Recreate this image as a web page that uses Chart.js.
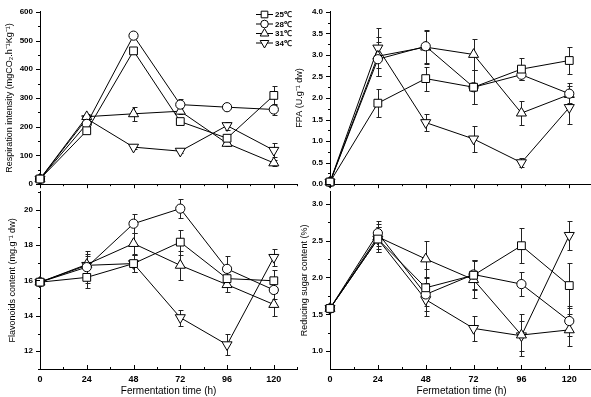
<!DOCTYPE html>
<html lang="en">
<head>
<meta charset="UTF-8">
<title>Fermentation time course</title>
<style>
  html, body { margin: 0; padding: 0; background: #fff; }
  body { width: 591px; height: 397px; overflow: hidden; position: relative; }
  canvas { position: absolute; }
</style>
</head>
<body>
<canvas id="resp" width="304" height="196" style="left:0;top:0"></canvas>
<canvas id="fpa" width="310" height="196" style="left:290px;top:0"></canvas>
<canvas id="flav" width="304" height="217" style="left:0;top:180px"></canvas>
<canvas id="sugar" width="310" height="217" style="left:290px;top:180px"></canvas>

<script src="https://cdn.jsdelivr.net/npm/chart.js@4.4.0/dist/chart.umd.min.js"></script>
<script>
const hours = [0, 24, 48, 72, 96, 120];
const seriesNames = ['25℃', '28℃', '31℃', '34℃'];

// respiration intensity, rows = 25, 28, 31, 34 ℃
const respiration = [
    [18, 186, 464, 218, 160, 309],
    [18, 210, 517, 277, 268, 260],
    [18, 235, 245, 254, 142, 74],
    [18, 228, 129, 115, 204, 118]
];
const respirationErr = [
    [6, 8, 10, 10, 10, 33],
    [6, 8, 8, 21, 8, 20],
    [6, 10, 24, 10, 10, 10],
    [6, 10, 8, 8, 14, 25]
];

const fpa = [
    [0.05, 1.88, 2.45, 2.25, 2.67, 2.87],
    [0.05, 2.9, 3.2, 2.25, 2.54, 2.1],
    [0.05, 2.97, 3.18, 3.01, 1.65, 2.08],
    [0.05, 3.16, 1.43, 1.05, 0.5, 1.78]
];
const fpaErr = [
    [0.02, 0.33, 0.28, 0.4, 0.25, 0.32],
    [0.02, 0.4, 0.38, 0.4, 0.12, 0.25],
    [0.02, 0.45, 0.38, 0.36, 0.27, 0.2],
    [0.02, 0.47, 0.2, 0.3, 0.1, 0.38]
];

const flavonoids = [
    [15.9, 16.17, 16.95, 18.16, 16.1, 15.98],
    [15.9, 16.75, 19.2, 20.05, 16.65, 15.46],
    [15.9, 16.9, 18.08, 16.85, 15.76, 14.64],
    [15.9, 16.85, 16.95, 13.9, 12.37, 17.3]
];
const flavonoidsErr = [
    [0.1, 0.6, 0.5, 0.7, 0.4, 0.6],
    [0.1, 0.9, 0.55, 0.55, 0.7, 0.5],
    [0.1, 0.6, 0.6, 0.8, 0.4, 0.65],
    [0.1, 0.5, 0.5, 0.45, 0.6, 0.5]
];

const sugar = [
    [1.58, 2.52, 1.86, 2.03, 2.43, 1.89],
    [1.58, 2.6, 1.77, 2.04, 1.91, 1.41],
    [1.58, 2.55, 2.25, 1.97, 1.22, 1.29],
    [1.58, 2.52, 1.70, 1.31, 1.21, 2.57]
];
const sugarErr = [
    [0.02, 0.17, 0.25, 0.2, 0.24, 0.3],
    [0.02, 0.17, 0.22, 0.2, 0.16, 0.2],
    [0.02, 0.17, 0.25, 0.25, 0.28, 0.22],
    [0.02, 0.17, 0.22, 0.17, 0.2, 0.2]
];

const respTicks = [0, 100, 200, 300, 400, 500, 600];
const fpaTicks = [0, 0.5, 1, 1.5, 2, 2.5, 3, 3.5, 4];
const flavTicks = [12, 14, 16, 18, 20];
const sugarTicks = [1, 1.5, 2, 2.5, 3];

Chart.defaults.font.family = '"Liberation Sans", Arial, sans-serif';
Chart.defaults.color = '#000';

const markers = [
    { style: 'rect', rot: 0, r: 5.5 },
    { style: 'circle', rot: 0, r: 4.6 },
    { style: 'triangle', rot: 0, r: 5.8 },
    { style: 'triangle', rot: 180, r: 5.8 }
];

// vertical error bars, drawn under the lines and markers
const errorBars = {
    id: 'errorBars',
    beforeDatasetsDraw(chart) {
        const { ctx, scales: { x, y } } = chart;
        ctx.save();
        ctx.strokeStyle = '#222';
        ctx.lineWidth = 1;
        chart.data.datasets.forEach(ds => {
            ds.data.forEach(p => {
                const px = Math.round(x.getPixelForValue(p.x)) + 0.5;
                const top = Math.round(y.getPixelForValue(p.y + p.err)) + 0.5;
                const bot = Math.round(y.getPixelForValue(p.y - p.err)) + 0.5;
                ctx.beginPath();
                ctx.moveTo(px, top); ctx.lineTo(px, bot);
                ctx.moveTo(px - 2, top); ctx.lineTo(px + 3, top);
                ctx.moveTo(px - 2, bot); ctx.lineTo(px + 3, bot);
                ctx.stroke();
            });
        });
        ctx.restore();
    }
};

// major + minor tick marks like Origin
function tickValues(scale, majors) {
    const step = majors[1] - majors[0];
    const out = [];
    for (let v = majors[0] - step / 2; v <= scale.max + 1e-9; v += step / 2) {
        if (v < scale.min - 1e-9) continue;
        const isMajor = majors.some(m => Math.abs(m - v) < 1e-9);
        out.push({ v, isMajor });
    }
    return out;
}

const axisTicks = {
    id: 'axisTicks',
    afterDraw(chart, args, opts) {
        const { ctx, chartArea: a, scales: { x, y } } = chart;
        ctx.save();
        ctx.strokeStyle = '#000';
        ctx.lineWidth = 1;
        ctx.beginPath();
        const dir = opts.xInward ? -1 : 1;
        tickValues(x, hours).forEach(t => {
            const px = Math.round(x.getPixelForValue(t.v)) + 0.5;
            const len = t.isMajor ? 4 : 2;
            ctx.moveTo(px, a.bottom);
            ctx.lineTo(px, a.bottom + dir * len);
        });
        tickValues(y, opts.yTicks).forEach(t => {
            const py = Math.round(y.getPixelForValue(t.v)) + 0.5;
            const len = t.isMajor ? 4 : 2;
            ctx.moveTo(a.left, py);
            ctx.lineTo(a.left - len, py);
        });
        ctx.stroke();
        ctx.restore();
    }
};

// legend: short line with the marker, then the label
const seriesKey = {
    id: 'seriesKey',
    afterDraw(chart, args, opts) {
        if (!opts.show) return;
        const ctx = chart.ctx;
        ctx.save();
        chart.data.datasets.forEach((ds, i) => {
            const cy = opts.top + i * opts.gap;
            ctx.strokeStyle = '#000';
            ctx.lineWidth = 1;
            ctx.beginPath();
            ctx.moveTo(opts.left, cy + 0.5);
            ctx.lineTo(opts.left + 17, cy + 0.5);
            ctx.stroke();
            ctx.fillStyle = '#fff';
            Chart.helpers.drawPoint(ctx, {
                pointStyle: ds.pointStyle, rotation: ds.pointRotation,
                radius: ds.pointRadius - 0.8, borderWidth: 1
            }, opts.left + 8.5, cy + 0.5);
            ctx.fillStyle = '#000';
            ctx.font = 'bold 8px "Liberation Sans", Arial, sans-serif';
            ctx.textBaseline = 'middle';
            ctx.fillText(ds.label, opts.left + 19, cy + 1);
        });
        ctx.restore();
    }
};

function makePanel(id, p) {
    const datasets = p.values.map((vals, i) => ({
        label: seriesNames[i],
        data: hours.map((h, j) => ({ x: h, y: vals[j], err: p.errors[i][j] })),
        borderColor: '#000',
        borderWidth: 1,
        backgroundColor: '#fff',
        pointStyle: markers[i].style,
        pointRotation: markers[i].rot,
        pointRadius: markers[i].r,
        pointBorderWidth: 1,
        pointBackgroundColor: '#fff',
        pointBorderColor: '#000',
        tension: 0,
        clip: false
    }));

    new Chart(document.getElementById(id), {
        type: 'line',
        data: { datasets },
        options: {
            responsive: false,
            animation: false,
            events: [],
            layout: { padding: { top: p.padTop, right: 3, left: 0, bottom: 0 } },
            plugins: {
                legend: { display: false },
                tooltip: { enabled: false },
                axisTicks: { xInward: p.showX, yTicks: p.yTicks },
                seriesKey: { show: !!p.legend, left: 256, top: 14, gap: 9.5 }
            },
            scales: {
                x: {
                    type: 'linear',
                    min: 0,
                    max: 132,
                    afterBuildTicks: s => { s.ticks = hours.map(v => ({ value: v })); },
                    afterFit: s => { s.height = p.xHeight; },
                    grid: { display: true, drawOnChartArea: false, drawTicks: false },
                    border: { display: true, color: '#000', width: 1 },
                    ticks: {
                        display: p.showX,
                        padding: 5,
                        maxRotation: 0,
                        autoSkip: false,
                        font: { size: 9, weight: 'bold' }
                    },
                    title: {
                        display: p.showX,
                        text: p.xTitle,
                        font: { size: 10 },
                        padding: { top: 1, bottom: 0 }
                    }
                },
                y: {
                    type: 'linear',
                    min: p.yMin,
                    max: p.yMax,
                    afterBuildTicks: s => { s.ticks = p.yTicks.map(v => ({ value: v })); },
                    afterFit: s => { s.width = 40; },
                    grid: { display: true, drawOnChartArea: false, drawTicks: false },
                    border: { display: true, color: '#000', width: 1 },
                    ticks: {
                        padding: 7,
                        font: { size: 8, weight: 'bold' },
                        callback: v => p.decimals ? v.toFixed(p.decimals) : String(v)
                    },
                    title: {
                        display: true,
                        text: p.yTitle,
                        font: { size: 9 },
                        padding: { top: p.titlePad, bottom: 0 }
                    }
                }
            }
        },
        plugins: [errorBars, axisTicks, seriesKey]
    });
}

makePanel('resp', {
    values: respiration, errors: respirationErr,
    yMin: 0, yMax: 600, yTicks: respTicks, decimals: 0,
    yTitle: 'Respiration intensity (mgCO₂.h⁻¹Kg⁻¹)',
    padTop: 7, xHeight: 8, showX: false, titlePad: 4, legend: true
});
makePanel('fpa', {
    values: fpa, errors: fpaErr,
    yMin: 0, yMax: 4, yTicks: fpaTicks, decimals: 1,
    yTitle: 'FPA (U.g⁻¹ dw)',
    padTop: 7, xHeight: 9, showX: false, titlePad: 4
});
makePanel('flav', {
    values: flavonoids, errors: flavonoidsErr,
    yMin: 11, yMax: 21, yTicks: flavTicks, decimals: 0,
    yTitle: 'Flavonoids content (mg.g⁻¹ dw)',
    padTop: 9, xHeight: 28, showX: true, titlePad: 7,
    xTitle: 'Fermentation time (h)'
});
makePanel('sugar', {
    values: sugar, errors: sugarErr,
    yMin: 0.76, yMax: 3.16, yTicks: sugarTicks, decimals: 1,
    yTitle: 'Reducing sugar content (%)',
    padTop: 9, xHeight: 28, showX: true, titlePad: 9,
    xTitle: 'Fermetation time (h)'
});
</script>
</body>
</html>
